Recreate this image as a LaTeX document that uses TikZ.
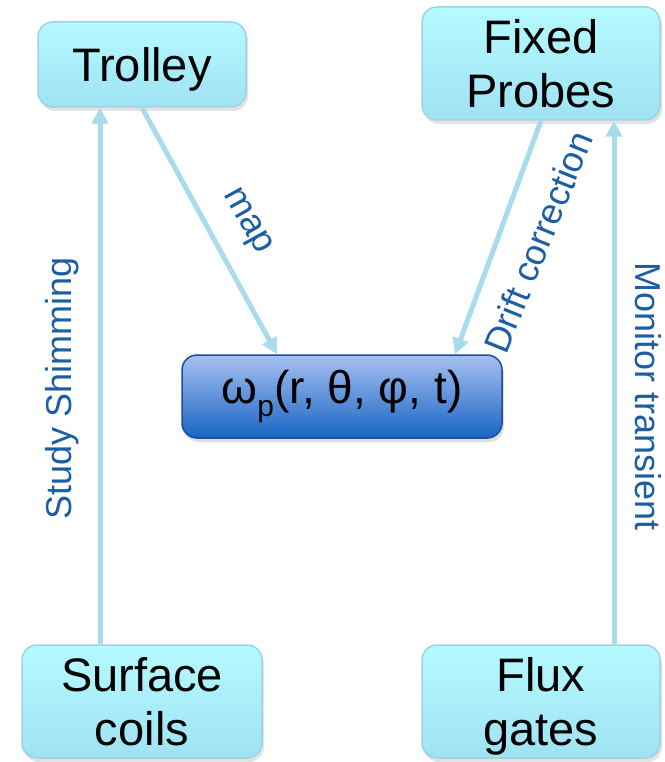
\documentclass[tikz,border=0pt]{standalone}
\usepackage{fontspec}
\setmainfont{Liberation Sans}
\usetikzlibrary{arrows.meta,shadows}
\definecolor{boxtop}{HTML}{B5FAFF}
\definecolor{boxbot}{HTML}{9FE2F3}
\definecolor{boxline}{HTML}{9ED3E6}
\definecolor{omtop}{HTML}{A7C0F0}
\definecolor{ombot}{HTML}{1865C4}
\definecolor{omline}{HTML}{1C4E96}
\definecolor{arrcol}{HTML}{A8DBEC}
\definecolor{labcol}{HTML}{1B5EA6}
\newcommand\bxstrut{\rule[-10pt]{0pt}{54pt}}
\tikzset{
  lightbox/.style={rectangle, rounded corners=15pt, draw=boxline, line width=1.5pt,
    top color=boxtop, bottom color=boxbot, align=center, inner sep=0pt,
    font=\fontsize{47}{54}\selectfont,
    drop shadow={opacity=0.22, shadow xshift=2pt, shadow yshift=-4pt}},
  darkbox/.style={rectangle, rounded corners=15pt, draw=omline, line width=1.5pt,
    top color=omtop, bottom color=ombot, align=center, inner sep=0pt,
    font=\fontsize{46}{54}\selectfont,
    drop shadow={opacity=0.25, shadow xshift=2pt, shadow yshift=-4pt}},
  conn/.style={draw=arrcol, line width=5pt, -{Triangle[width=16pt,length=16pt]}},
  lab/.style={text=labcol, font=\fontsize{36}{40}\selectfont, inner sep=0pt}
}
\begin{document}
\begin{tikzpicture}[x=1pt,y=-1pt]
\useasboundingbox (0,0) rectangle (664,762);
\node[lightbox, minimum width=208pt, minimum height=85pt] (trolley) at (142,64.5) {\bxstrut Trolley};
\node[lightbox, minimum width=238pt, minimum height=113pt] (fixed) at (541,63.5) {\bxstrut Fixed\\\bxstrut Probes};
\node[darkbox, minimum width=320pt, minimum height=83pt] (omega) at (342,396.5)
  {ω\raisebox{-0.28em}{\fontsize{30}{30}\selectfont p}(r, θ, φ, t)};
\node[lightbox, minimum width=240pt, minimum height=113pt] (surface) at (142,701.5) {\bxstrut Surface\\\bxstrut coils};
\node[lightbox, minimum width=238pt, minimum height=113pt] (flux) at (541,701.5) {\bxstrut Flux\\\bxstrut gates};

\coordinate (xs) at (100,0);
\coordinate (xm) at (277,0);
\coordinate (xd) at (455,0);
\coordinate (xf) at (614,0);

\draw[conn] (surface.north -| xs) -- (trolley.south -| xs);
\draw[conn] (trolley.south) -- (omega.north -| xm);
\draw[conn] (fixed.south) -- (omega.north -| xd);
\draw[conn] (flux.north -| xf) -- (fixed.south -| xf);

\node[lab, rotate=-61] (lmap) at (246,222) {map};
\node[lab, rotate=68] (ldrift) at (538,242) {Drift correction};
\node[lab, rotate=90] (lstudy) at (62,388) {Study Shimming};
\node[lab, rotate=-90] (lmon) at (648,397) {Monitor transient};
\end{tikzpicture}
\end{document}
